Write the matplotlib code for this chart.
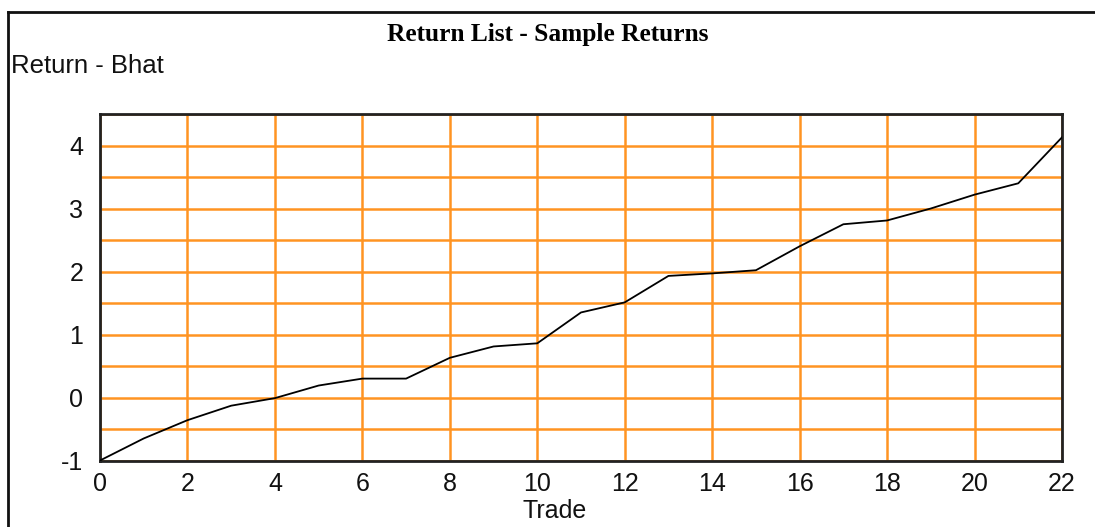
import matplotlib
matplotlib.use("Agg")
import matplotlib.pyplot as plt
from matplotlib.lines import Line2D
from matplotlib.ticker import MultipleLocator

# Cumulative return per trade
trades = list(range(0, 23))
returns = [-1.00, -0.65, -0.36, -0.13, -0.01, 0.19, 0.30, 0.30, 0.63, 0.81,
           0.86, 1.35, 1.51, 1.93, 1.97, 2.02, 2.40, 2.75, 2.81, 3.00,
           3.22, 3.40, 4.13]
x_ticks = list(range(0, 23, 2))
y_ticks = [-1, 0, 1, 2, 3, 4]

title = "Return List - Sample Returns"
y_title = "Return - Bhat"
x_title = "Trade"

W, H = 1095, 527
fig = plt.figure(figsize=(W / 100, H / 100), dpi=100)
fig.patch.set_facecolor("white")

ax = fig.add_axes([100 / W, (H - 460.5) / H, 962 / W, 346.5 / H])
ax.set_xlim(0, 22)
ax.set_ylim(-1, 4.5)

grid_color = "#FF9422"
ax.xaxis.set_minor_locator(MultipleLocator(2))
ax.yaxis.set_minor_locator(MultipleLocator(0.5))
ax.grid(which="minor", color=grid_color, linewidth=1.8)
ax.grid(which="major", color=grid_color, linewidth=1.8)
ax.set_axisbelow(True)
ax.tick_params(which="both", length=0)

ax.plot(trades, returns, color="black", linewidth=1.3, zorder=3)

ax.set_xticks(x_ticks)
ax.set_yticks(y_ticks)
ax.set_xticklabels([str(v) for v in x_ticks], family="Liberation Sans",
                   fontsize=18, color="#111111")
ax.set_yticklabels([str(v) for v in y_ticks], family="Liberation Sans",
                   fontsize=18, color="#111111")
ax.tick_params(axis="x", pad=8)
ax.tick_params(axis="y", pad=12)

for side in ["left", "right", "top", "bottom"]:
    ax.spines[side].set_color("#222222")
    ax.spines[side].set_linewidth(2)

fig.text(548 / W, 1 - 35 / H, title, ha="center", va="center",
         family="Liberation Serif", fontweight="bold", fontsize=18.3)
fig.text(11 / W, 1 - 66 / H, y_title, ha="left", va="center",
         family="Liberation Sans", fontsize=18.5, color="#111111")
fig.text(555 / W, 1 - 511 / H, x_title, ha="center", va="center",
         family="Liberation Sans", fontsize=18, color="#111111")

# Outer frame: top and left edges of the panel
fig.add_artist(Line2D([8 / W, 1.0], [1 - 12 / H, 1 - 12 / H],
                      transform=fig.transFigure, color="#111111", linewidth=2))
fig.add_artist(Line2D([8 / W, 8 / W], [1 - 12 / H, 0.0],
                      transform=fig.transFigure, color="#111111", linewidth=2))

fig.savefig("out.png", dpi=100, facecolor="white")
